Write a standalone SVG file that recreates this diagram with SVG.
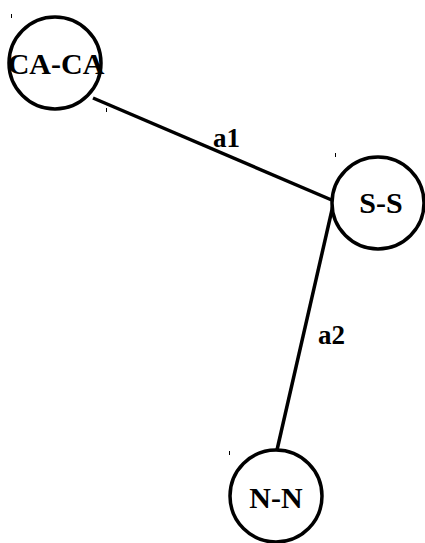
<svg xmlns="http://www.w3.org/2000/svg" width="425" height="543" viewBox="0 0 425 543">
<style>
.node circle{fill:#fff;stroke:#000;stroke-width:3.5}
.node text{font-family:"Liberation Serif","Times New Roman",serif;font-weight:bold;font-size:30px;text-anchor:middle;fill:#000}
.edge{stroke:#000;stroke-width:3.5;fill:none}
.lbl{font-family:"Liberation Serif","Times New Roman",serif;font-weight:bold;font-size:27px;fill:#000}
.tick{stroke:#000;stroke-width:1}
</style>
<rect width="425" height="543" fill="#fff"/>
<g id="connectors">
<line class="edge" x1="93" y1="98" x2="334" y2="201"/>
<line class="edge" x1="334" y1="201" x2="277" y2="450"/>
<text class="lbl" x="213" y="147">a1</text>
<text class="lbl" x="318" y="344">a2</text>
</g>
<g id="ticks">
<line class="tick" x1="11.5" y1="14" x2="11.5" y2="18"/>
<line class="tick" x1="106.5" y1="108" x2="106.5" y2="112"/>
<line class="tick" x1="335.5" y1="153" x2="335.5" y2="157"/>
<line class="tick" x1="229.5" y1="451" x2="229.5" y2="455"/>
</g>
<g id="node-CA-CA" class="node">
<circle cx="55" cy="63" r="46"/>
<text x="56" y="74">CA-CA</text>
</g>
<g id="node-S-S" class="node">
<circle cx="378" cy="203" r="46"/>
<text x="381" y="213">S-S</text>
</g>
<g id="node-N-N" class="node">
<circle cx="276" cy="496" r="46"/>
<text x="276" y="508">N-N</text>
</g>
</svg>
